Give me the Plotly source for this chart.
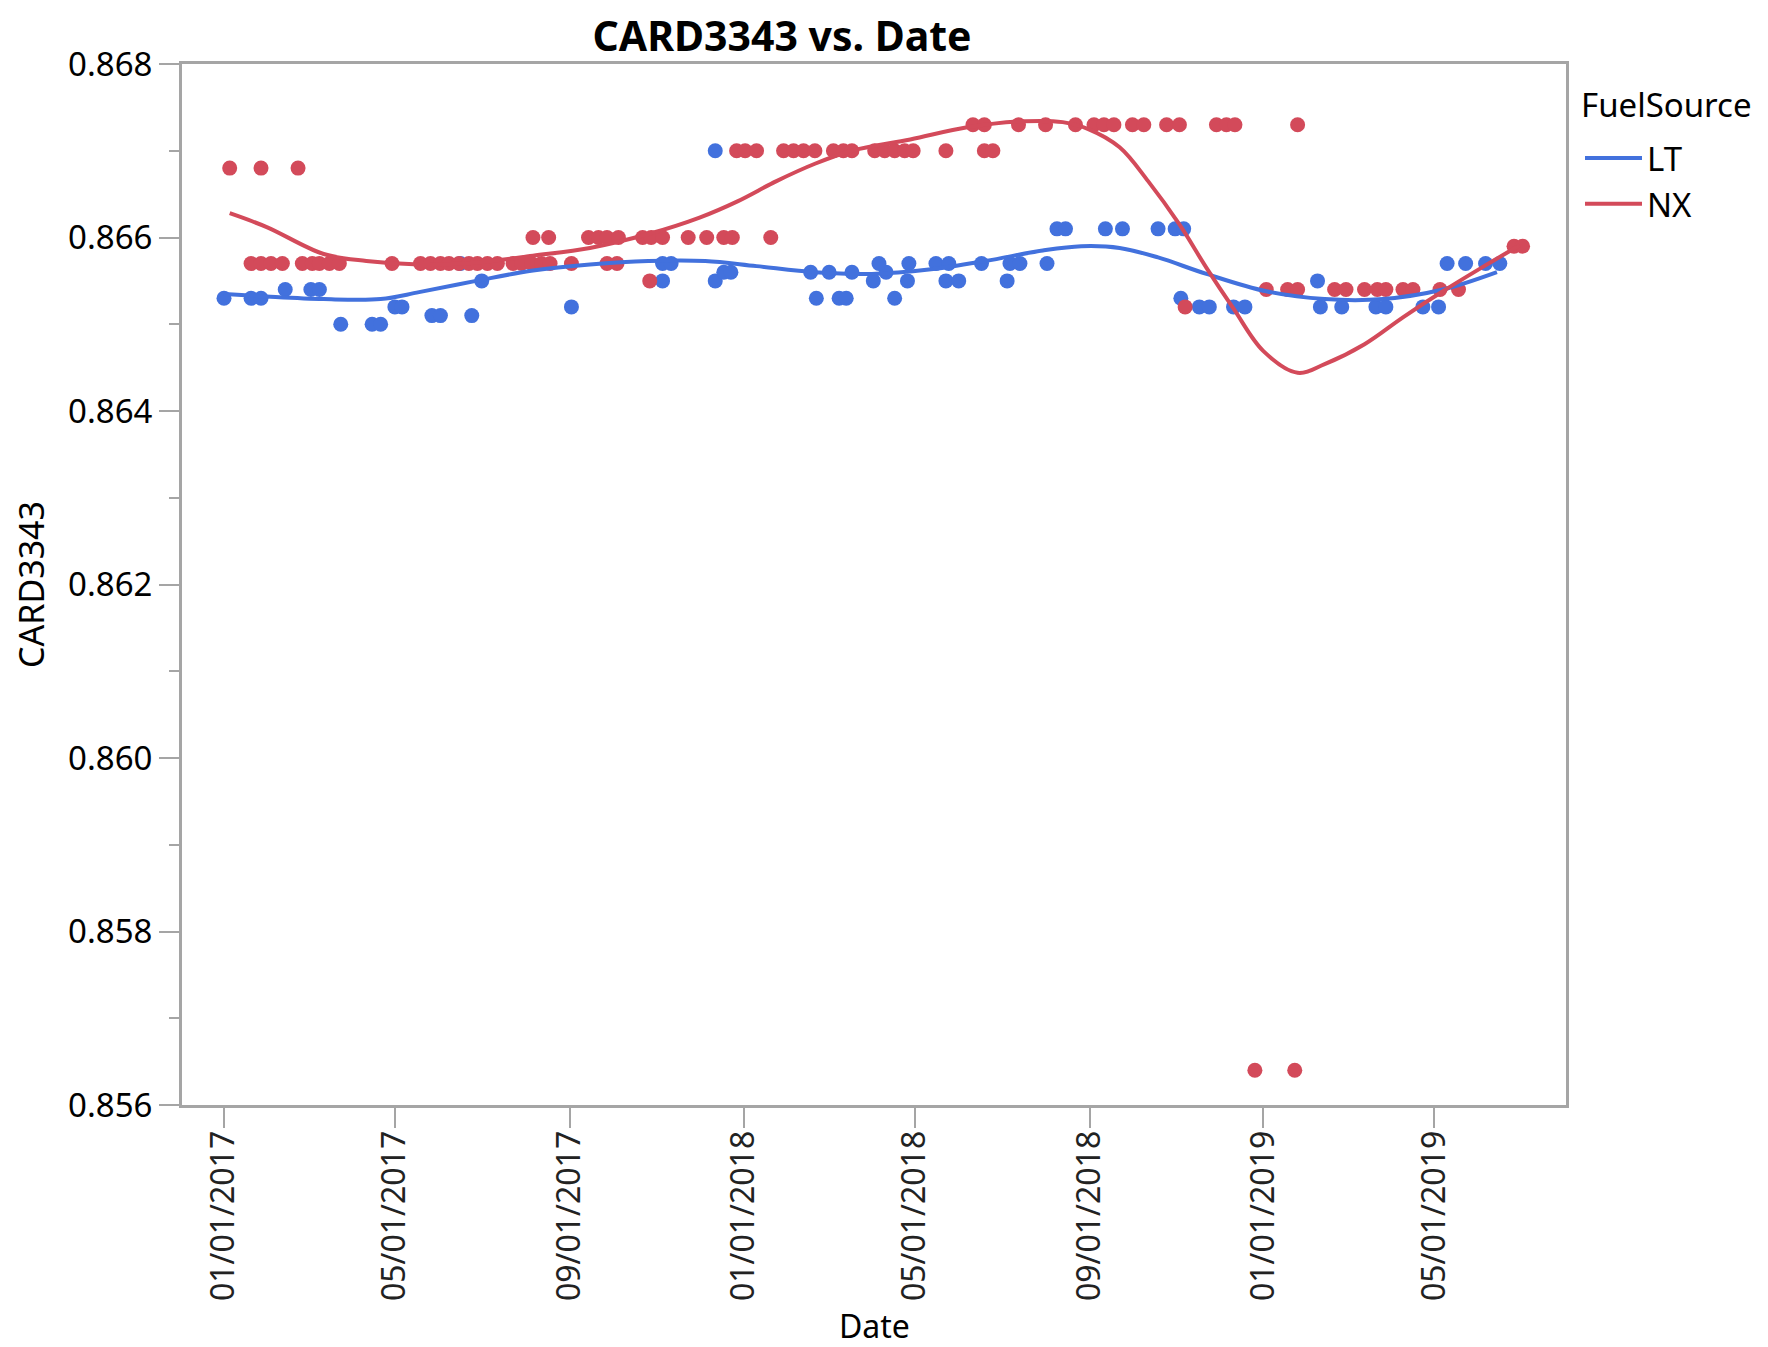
import pandas as pd
import plotly.graph_objects as go

# ---------------- data ----------------
BASE_DATE = "2017-01-01"   # x values below are days after this date

lt_days = [0, 19, 26, 43, 61, 67, 82, 104, 110, 120, 125, 146, 152, 174, 166, 181, 244,
           308, 314, 308, 345, 345, 351, 356,
           412, 425, 441, 465, 460, 481, 500, 509, 532, 552, 559, 578,
           456, 480, 507, 516, 550, 416, 432, 437, 471,
           585, 591, 619, 631, 656, 668, 674, 672,
           685, 692, 709, 717, 770, 785, 809, 816, 842, 853, 768,
           859, 872, 886, 896]
lt_vals = [0.8653, 0.8653, 0.8653, 0.8654, 0.8654, 0.8654, 0.8650, 0.8650, 0.8650, 0.8652, 0.8652,
           0.8651, 0.8651, 0.8651, 0.8657, 0.8655, 0.8652,
           0.8657, 0.8657, 0.8655, 0.8670, 0.8655, 0.8656, 0.8656,
           0.8656, 0.8656, 0.8656, 0.8656, 0.8657, 0.8657, 0.8657, 0.8657, 0.8657, 0.8657, 0.8657, 0.8657,
           0.8655, 0.8655, 0.8655, 0.8655, 0.8655, 0.8653, 0.8653, 0.8653, 0.8653,
           0.8661, 0.8661, 0.8661, 0.8661, 0.8661, 0.8661, 0.8661, 0.8653,
           0.8652, 0.8652, 0.8652, 0.8652, 0.8652, 0.8652, 0.8652, 0.8652, 0.8652, 0.8652, 0.8655,
           0.8657, 0.8657, 0.8657, 0.8657]

nx_days = [4, 26, 52,
           19, 26, 33, 41, 55, 62, 67, 74, 81, 118, 138, 145, 152, 158, 165, 172, 178, 185, 192,
           203, 209, 216, 223, 229, 244, 269, 276,
           217, 228, 256, 263, 269, 277, 294, 300, 308, 326, 339, 351, 357, 384,
           299,
           360, 366, 374, 393, 400, 407, 415, 428, 435, 441, 457, 464, 471, 478, 484, 507, 534, 540,
           526, 534, 558, 577, 598, 611, 618, 625, 638, 646, 662, 671, 697, 704, 710, 754,
           675,
           732, 747, 754, 780, 788, 801, 810, 816, 828, 835, 854, 867,
           724, 752,
           906, 912]
nx_vals = [0.8668, 0.8668, 0.8668,
           0.8657, 0.8657, 0.8657, 0.8657, 0.8657, 0.8657, 0.8657, 0.8657, 0.8657, 0.8657, 0.8657,
           0.8657, 0.8657, 0.8657, 0.8657, 0.8657, 0.8657, 0.8657, 0.8657,
           0.8657, 0.8657, 0.8657, 0.8657, 0.8657, 0.8657, 0.8657, 0.8657,
           0.8660, 0.8660, 0.8660, 0.8660, 0.8660, 0.8660, 0.8660, 0.8660, 0.8660, 0.8660, 0.8660,
           0.8660, 0.8660, 0.8660,
           0.8655,
           0.8670, 0.8670, 0.8670, 0.8670, 0.8670, 0.8670, 0.8670, 0.8670, 0.8670, 0.8670, 0.8670,
           0.8670, 0.8670, 0.8670, 0.8670, 0.8670, 0.8670, 0.8670,
           0.8673, 0.8673, 0.8673, 0.8673, 0.8673, 0.8673, 0.8673, 0.8673, 0.8673, 0.8673, 0.8673,
           0.8673, 0.8673, 0.8673, 0.8673, 0.8673,
           0.8652,
           0.8654, 0.8654, 0.8654, 0.8654, 0.8654, 0.8654, 0.8654, 0.8654, 0.8654, 0.8654, 0.8654, 0.8654,
           0.8564, 0.8564,
           0.8659, 0.8659]

# smoother curves
lt_fit_days = [0, 30, 70, 110, 137, 177, 217, 257, 298, 338, 374, 415, 455, 495, 535, 575,
               602, 629, 656, 690, 732, 773, 814, 856, 894]
lt_fit_vals = [0.86535, 0.86532, 0.86529, 0.86529, 0.86537, 0.86550, 0.86562, 0.86569, 0.86573,
               0.86573, 0.86567, 0.86560, 0.86558, 0.86563, 0.86573, 0.86585, 0.86590, 0.86588,
               0.86577, 0.86558, 0.86538, 0.86529, 0.86529, 0.86540, 0.86560]

nx_fit_days = [4, 30, 70, 100, 137, 177, 217, 257, 298, 334, 361, 388, 415, 441, 482, 522, 562,
               589, 607, 629, 649, 671, 690, 709, 730, 754, 773, 801, 828, 856, 883, 910]
nx_fit_vals = [0.86628, 0.86612, 0.86581, 0.86573, 0.86569, 0.86571, 0.86579, 0.86588, 0.86604,
               0.86623, 0.86642, 0.86665, 0.86685, 0.86700, 0.86713, 0.86727, 0.86734, 0.86733,
               0.86725, 0.86704, 0.86665, 0.86615, 0.86565, 0.86518, 0.86469, 0.86444, 0.86454,
               0.86477, 0.86508, 0.86538, 0.86565, 0.86591]

x_tick_dates = ["2017-01-01", "2017-05-01", "2017-09-01", "2018-01-01",
                "2018-05-01", "2018-09-01", "2019-01-01", "2019-05-01"]
x_tick_text = ["01/01/2017", "05/01/2017", "09/01/2017", "01/01/2018",
               "05/01/2018", "09/01/2018", "01/01/2019", "05/01/2019"]
y_tick_vals = [0.856, 0.858, 0.860, 0.862, 0.864, 0.866, 0.868]
y_tick_text = ["0.856", "0.858", "0.860", "0.862", "0.864", "0.866", "0.868"]

# ---------------- styling ----------------
BLUE = "#4271DD"
RED = "#D34A5A"
AXIS = "#A5A5A5"
FONT = "Noto Sans, Open Sans, DejaVu Sans"

W, H = 1768, 1347
L, R, T, B = 174, 210, 56, 250
PW, PH = W - L - R, H - T - B

base = pd.Timestamp(BASE_DATE)
def to_dates(days):
    return [base + pd.Timedelta(days=d) for d in days]

fig = go.Figure()
fig.add_trace(go.Scatter(x=to_dates(lt_days), y=lt_vals, mode="markers", name="LT",
                         marker=dict(color=BLUE, size=15), showlegend=False, legendgroup="LT"))
fig.add_trace(go.Scatter(x=to_dates(nx_days), y=nx_vals, mode="markers", name="NX",
                         marker=dict(color=RED, size=15), showlegend=False, legendgroup="NX"))
fig.add_trace(go.Scatter(x=to_dates(lt_fit_days), y=lt_fit_vals, mode="lines", name="LT",
                         line=dict(color=BLUE, width=4, shape="spline", smoothing=1.0),
                         legendgroup="LT"))
fig.add_trace(go.Scatter(x=to_dates(nx_fit_days), y=nx_fit_vals, mode="lines", name="NX",
                         line=dict(color=RED, width=4, shape="spline", smoothing=1.0),
                         legendgroup="NX"))

fig.update_layout(
    width=W, height=H,
    margin=dict(l=L, r=R, t=T, b=B, autoexpand=False),
    paper_bgcolor="white", plot_bgcolor="white",
    font=dict(family=FONT, size=33, color="black"),
    title=dict(text="<b>CARD3343 vs. Date</b>", x=774 / W, xref="container", xanchor="center",
               y=1 - 29 / H, yref="container", yanchor="middle", pad=dict(t=0, b=0),
               font=dict(family=FONT, size=41, color="black")),
    legend=dict(x=(1572 - L) / PW, xanchor="left", y=(H - B - 122) / PH, yanchor="top",
                font=dict(size=33), bgcolor="rgba(0,0,0,0)", borderwidth=0,
                tracegroupgap=0, itemwidth=57),
    showlegend=True,
    annotations=[
        dict(text="FuelSource", xref="paper", yref="paper",
             x=(1571 - L) / PW, y=(H - B - 96) / PH, xanchor="left", yanchor="middle",
             showarrow=False, font=dict(family=FONT, size=33, color="black")),
        dict(text="Date", xref="paper", yref="paper",
             x=0.5, y=-(B - 6) / PH, xanchor="center", yanchor="bottom",
             showarrow=False, font=dict(family=FONT, size=32, color="black")),
    ],
)

fig.update_xaxes(
    type="date",
    range=["2016-12-02 12:00", "2019-08-01 12:00"],
    tickmode="array", tickvals=x_tick_dates, ticktext=x_tick_text,
    tickangle=-90, ticks="outside", ticklen=20, tickwidth=2, tickcolor=AXIS,
    ticklabelstandoff=-10,
    tickfont=dict(size=32, color="#222222"),
    showline=True, linecolor=AXIS, linewidth=3, mirror=True,
    showgrid=False, zeroline=False,
)
fig.update_yaxes(
    range=[0.856, 0.868],
    tickmode="array", tickvals=y_tick_vals, ticktext=y_tick_text,
    ticks="outside", ticklen=20, tickwidth=2, tickcolor=AXIS,
    minor=dict(dtick=0.001, tick0=0.856, ticks="outside", ticklen=10, tickwidth=2, tickcolor=AXIS),
    tickfont=dict(size=33, color="black"),
    showline=True, linecolor=AXIS, linewidth=3, mirror=True,
    showgrid=False, zeroline=False,
    title=dict(text="CARD3343", standoff=20, font=dict(size=34)),
)

fig.write_html("out.html")
